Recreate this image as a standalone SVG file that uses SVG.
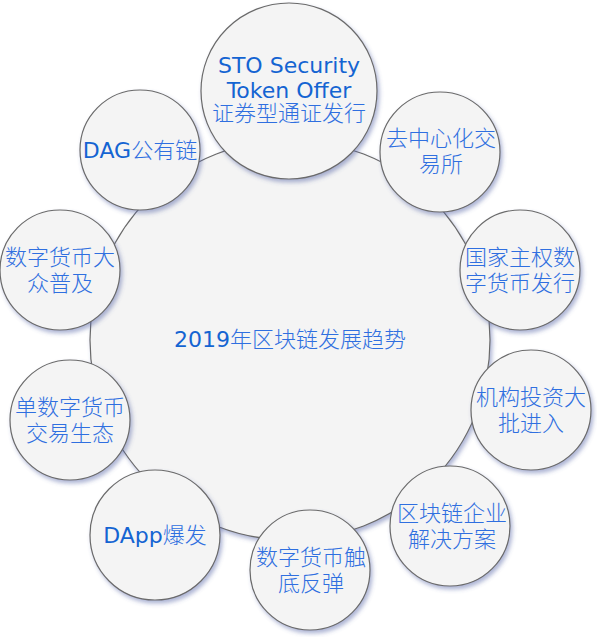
<svg xmlns="http://www.w3.org/2000/svg" width="597" height="637" viewBox="0 0 597 637">
<defs>
<filter id="sh" x="-20%" y="-20%" width="140%" height="140%">
<feDropShadow dx="2" dy="3" stdDeviation="2" flood-color="#4a5aa0" flood-opacity="0.45"/>
</filter>
<style>
.c{fill:#f4f4f4;stroke:#6a6a6a;stroke-width:1.2;filter:url(#sh)}
.t{font-family:"DejaVu Sans","Noto Sans CJK SC",sans-serif;font-size:22px;fill:#1464d2;text-anchor:middle}
.k{font-family:"Noto Sans CJK SC",sans-serif;font-weight:300;fill:#2f6fe0}
</style>
</defs>
<rect width="597" height="637" fill="#ffffff"/>
<g id="center"><circle class="c" cx="290" cy="340" r="200"/><text class="t" x="290" y="347">2019<tspan class="k">年区块链发展趋势</tspan></text></g>
<g id="connectors"></g>
<g id="sto"><circle class="c" cx="289" cy="91" r="88"/><text class="t" x="289" y="73">STO Security</text><text class="t" x="289" y="98">Token Offer</text><text class="t k" x="289" y="121">证券型通证发行</text></g>
<g id="dex"><circle class="c" cx="440" cy="152" r="60"/><text class="t k" x="441" y="146">去中心化交</text><text class="t k" x="441" y="172">易所</text></g>
<g id="sovereign"><circle class="c" cx="520" cy="270" r="60"/><text class="t k" x="520" y="265">国家主权数</text><text class="t k" x="520" y="291">字货币发行</text></g>
<g id="institution"><circle class="c" cx="531" cy="410" r="60"/><text class="t k" x="531" y="405">机构投资大</text><text class="t k" x="531" y="431">批进入</text></g>
<g id="enterprise"><circle class="c" cx="450" cy="526" r="60"/><text class="t k" x="452" y="521">区块链企业</text><text class="t k" x="452" y="547">解决方案</text></g>
<g id="rebound"><circle class="c" cx="310" cy="570" r="60"/><text class="t k" x="311" y="565">数字货币触</text><text class="t k" x="311" y="591">底反弹</text></g>
<g id="dapp"><circle class="c" cx="155" cy="535" r="65"/><text class="t" x="155" y="543">DApp<tspan class="k">爆发</tspan></text></g>
<g id="single"><circle class="c" cx="70" cy="420" r="60"/><text class="t k" x="70" y="415">单数字货币</text><text class="t k" x="70" y="441">交易生态</text></g>
<g id="popular"><circle class="c" cx="60" cy="270" r="60"/><text class="t k" x="60" y="265">数字货币大</text><text class="t k" x="60" y="291">众普及</text></g>
<g id="dag"><circle class="c" cx="140" cy="150" r="60"/><text class="t" x="140" y="158">DAG<tspan class="k">公有链</tspan></text></g>
</svg>
